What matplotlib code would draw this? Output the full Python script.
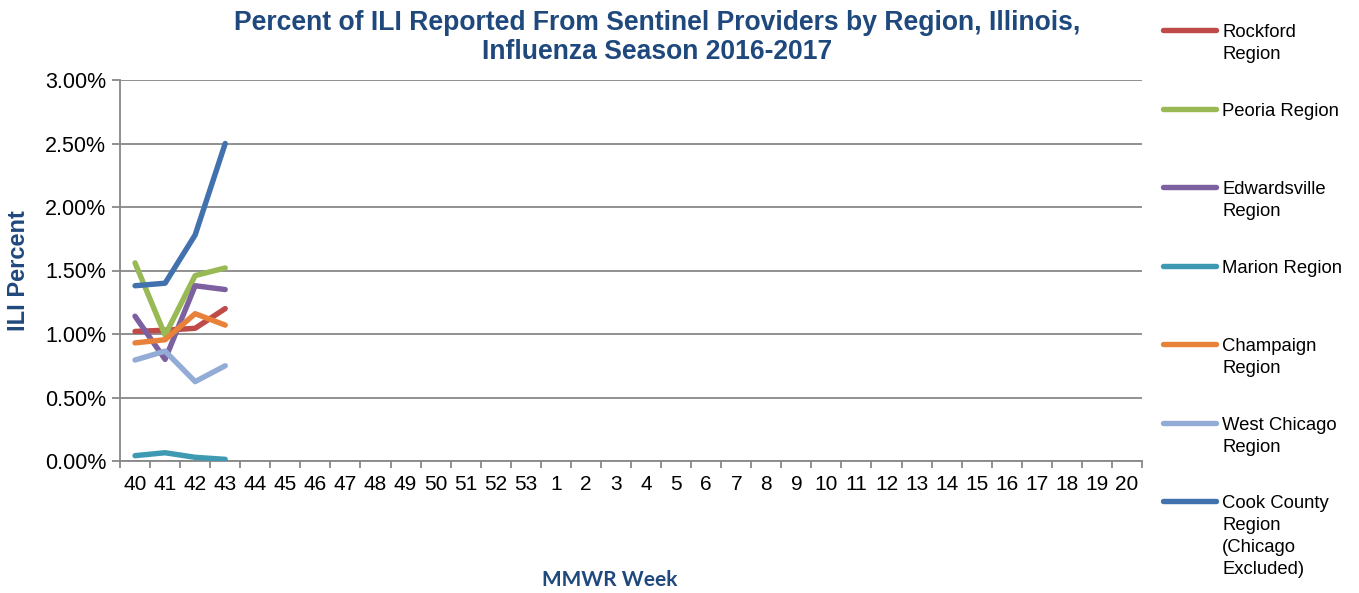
import numpy as np
import matplotlib
matplotlib.use("Agg")
import matplotlib.pyplot as plt
from matplotlib.legend_handler import HandlerLine2D

# ---------------- data ----------------
weeks = [str(w) for w in range(40, 54)] + [str(w) for w in range(1, 21)]

regions = ["Rockford\nRegion", "Peoria Region", "Edwardsville\nRegion",
           "Marion Region", "Champaign\nRegion", "West Chicago\nRegion",
           "Cook County\nRegion\n(Chicago\nExcluded)"]

rockford = [1.02, 1.03, 1.045, 1.20]
peoria = [1.56, 0.99, 1.46, 1.52]
edwardsville = [1.14, 0.80, 1.38, 1.35]
marion = [0.042, 0.065, 0.029, 0.013]
champaign = [0.93, 0.955, 1.16, 1.07]
west_chicago = [0.795, 0.865, 0.625, 0.75]
cook_county = [1.38, 1.40, 1.78, 2.50]

series = [rockford, peoria, edwardsville, marion, champaign, west_chicago, cook_county]
colors = ["#BE4B48", "#98B954", "#7D60A0", "#3E9AB3", "#E8823A", "#93ACD6", "#4272AE"]

yticks = [0.0, 0.5, 1.0, 1.5, 2.0, 2.5, 3.0]

# ---------------- figure ----------------
W, H = 1359, 593
fig = plt.figure(figsize=(W / 100, H / 100), dpi=100)
plt.rcParams['font.family'] = ['Liberation Sans', 'DejaVu Sans']
L, R, T, B = 120, 1142, 80, 461
ax = fig.add_axes([L / W, 1 - B / H, (R - L) / W, (B - T) / H])

title_color = "#1F497D"
grid_color = "#888888"

x = np.arange(len(weeks))
lines = []
for vals, name, c in zip(series, regions, colors):
    ln, = ax.plot(x[:len(vals)], vals, color=c, lw=3.9, label=name,
                  solid_capstyle='round', solid_joinstyle='round', zorder=3)
    lines.append(ln)

ax.set_xlim(-0.5, len(weeks) - 0.5)
ax.set_ylim(0, 3.0)
ax.set_yticks(yticks)
ax.set_yticklabels([f"{v:.2f}%" for v in yticks], fontsize=15.5)
ax.set_xticks(x)
ax.set_xticklabels(weeks, fontsize=15)
ax.set_xticks(np.arange(-0.5, len(weeks), 1.0), minor=True)
ax.tick_params(axis='x', which='major', length=0, pad=10)
ax.tick_params(axis='x', which='minor', length=5, width=1.3, color=grid_color, direction='out')
ax.tick_params(axis='y', length=6, width=1.3, color=grid_color, pad=4)
ax.yaxis.grid(True, color=grid_color, lw=1.3, zorder=0)
ax.set_axisbelow(True)
for s in ["top", "right"]:
    ax.spines[s].set_visible(False)
for s in ["left", "bottom"]:
    ax.spines[s].set_color(grid_color)
    ax.spines[s].set_linewidth(1.3)

ax.set_ylabel("ILI Percent", fontsize=17, fontweight='bold', color=title_color)
ax.yaxis.set_label_coords((18 - L) / (R - L), (B - 271) / (B - T))
ax.yaxis.label.set_va('center')
ax.set_xlabel("MMWR Week", fontsize=15, fontweight='bold', color=title_color,
              family=['Lato', 'DejaVu Sans'])
ax.xaxis.set_label_coords((610 - L) / (R - L), -(580 - B) / (B - T))
ax.xaxis.label.set_va('center')

fig.text(657 / W, 1 - 37.5 / H,
         "Percent of ILI Reported From Sentinel Providers by Region, Illinois,\nInfluenza Season 2016-2017",
         ha='center', va='center', fontsize=19.1, fontweight='bold', color=title_color,
         linespacing=1.15)

# ---------------- legend ----------------
LEG_FS = 13.3
LINE_PTS = 22 * 0.72  # line pitch in points
EXTRA_PTS = 2 * 0.72


class TopHandler(HandlerLine2D):
    def create_artists(self, legend, orig_handle, xdescent, ydescent,
                       width, height, fontsize, trans):
        arts = super().create_artists(legend, orig_handle, xdescent, ydescent,
                                      width, height, fontsize, trans)
        n = orig_handle.get_label().count("\n") + 1
        off = (n - 1) / 2 * LINE_PTS + (EXTRA_PTS if n > 1 else 0)
        for a in arts:
            a.set_ydata(np.asarray(a.get_ydata()) + off)
        return arts


for ln in lines[:-1]:
    lab = ln.get_label()
    pad = 3 - (lab.count("\n") + 1)
    ln.set_label(lab + "\n" * pad)

leg = fig.legend(handles=lines, loc='upper left',
                 bbox_to_anchor=(1163 / W, 1 - 24 / H), frameon=False,
                 fontsize=LEG_FS, handlelength=53 / (LEG_FS / 0.72),
                 handletextpad=6 / (LEG_FS / 0.72), borderpad=0, borderaxespad=0,
                 labelspacing=0.97,
                 handler_map={l: TopHandler() for l in lines})
for t in leg.get_texts():
    t.set_linespacing(1.37)

fig.savefig("out.png", dpi=100)
